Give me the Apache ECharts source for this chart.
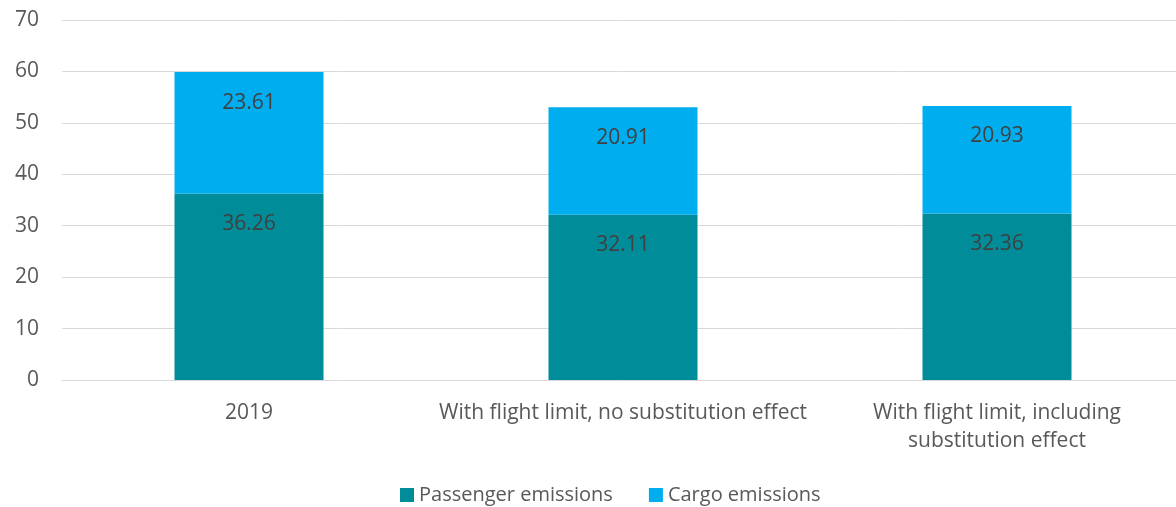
<!DOCTYPE html>
<html>
<head>
<meta charset="utf-8">
<script src="https://cdn.jsdelivr.net/npm/echarts@6/dist/echarts.min.js"></script>
<style>
  html, body { margin: 0; padding: 0; background: #fff; overflow: hidden; }
  #chart { width: 1176px; height: 507px; }
</style>
</head>
<body>
<div id="chart"></div>
<script>
// Scenario categories (x axis)
const categories = [
  '2019',
  'With flight limit, no substitution effect',
  'With flight limit, including\nsubstitution effect'
];
// Emissions per scenario, stacked
const passengerEmissions = [36.26, 32.11, 32.36];
const cargoEmissions = [23.61, 20.91, 20.93];
// Y axis range
const yMin = 0, yMax = 70, yStep = 10;

const FONT = '"Open Sans", "Noto Sans", sans-serif';
const chart = echarts.init(document.getElementById('chart'), null, { renderer: 'canvas' });

const labelStyle = {
  show: true,
  position: 'insideTop',
  distance: 20,
  color: '#404040',
  fontFamily: FONT,
  fontSize: 21,
  formatter: p => p.value.toFixed(2)
};

chart.setOption({
  animation: false,
  // plot area runs past the right edge so the last category keeps its full width
  grid: {
    left: 62, width: 1122, top: 20, bottom: 127,
    containLabel: false,
    outerBoundsMode: 'none'
  },
  legend: {
    top: 480,
    left: 395,
    itemWidth: 14,
    itemHeight: 14,
    itemGap: 36,
    icon: 'rect',
    textStyle: { color: '#595959', fontFamily: FONT, fontSize: 20 },
    data: ['Passenger emissions', 'Cargo emissions']
  },
  xAxis: {
    type: 'category',
    data: categories,
    axisLine: { show: true, lineStyle: { color: '#D9D9D9', width: 1 } },
    axisTick: { show: false },
    axisLabel: {
      interval: 0,
      margin: 19,
      color: '#595959',
      fontFamily: FONT,
      fontSize: 21,
      lineHeight: 28
    }
  },
  yAxis: {
    type: 'value',
    min: yMin,
    max: yMax,
    interval: yStep,
    axisLine: { show: false },
    axisTick: { show: false },
    splitLine: { lineStyle: { color: '#D9D9D9', width: 1 } },
    axisLabel: {
      margin: 23,
      color: '#595959',
      fontFamily: FONT,
      fontSize: 21
    }
  },
  series: [
    {
      name: 'Passenger emissions',
      type: 'bar',
      stack: 'total',
      barWidth: 149,
      data: passengerEmissions,
      itemStyle: { color: '#008C99' },
      label: labelStyle
    },
    {
      name: 'Cargo emissions',
      type: 'bar',
      stack: 'total',
      barWidth: 149,
      data: cargoEmissions,
      itemStyle: { color: '#00AEEF' },
      label: labelStyle
    }
  ]
});
</script>
</body>
</html>
